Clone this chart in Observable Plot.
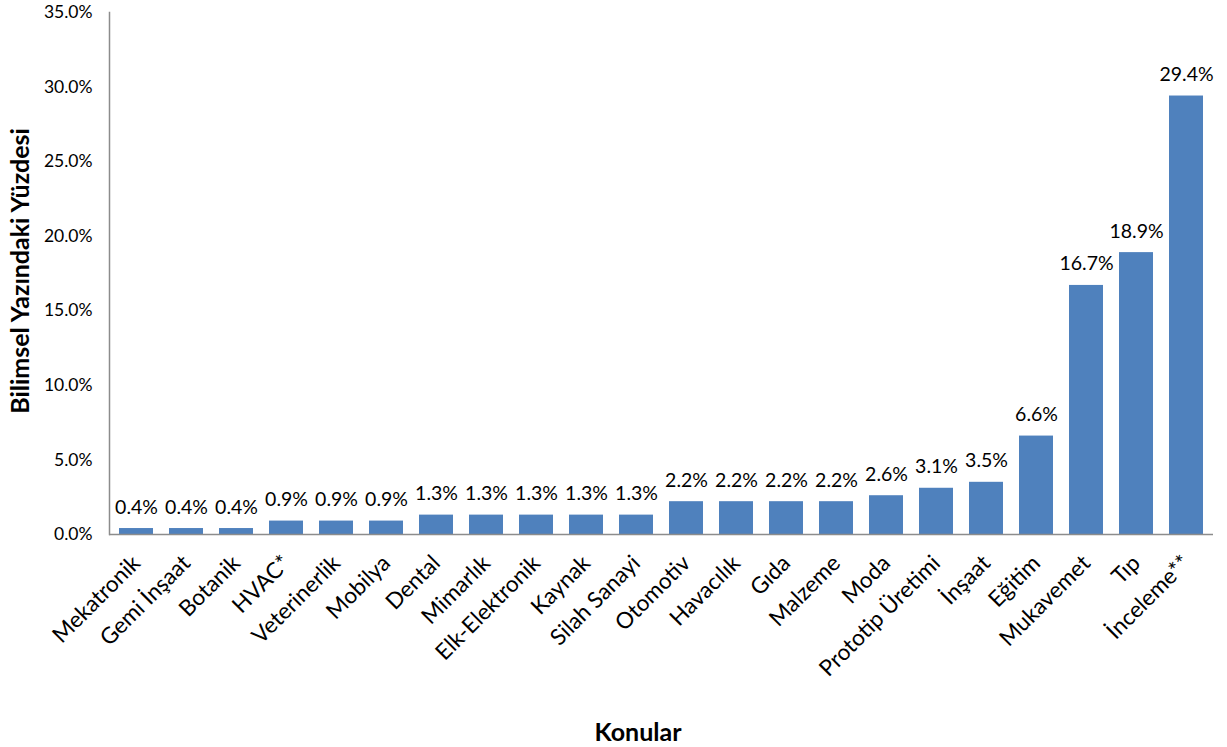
<!DOCTYPE html>
<html>
<head>
<meta charset="utf-8">
<script src="https://cdn.jsdelivr.net/npm/d3@7"></script>
<script src="https://cdn.jsdelivr.net/npm/@observablehq/plot@0.6"></script>
<style>
  html, body { margin: 0; padding: 0; background: #fff; }
  #chart { position: relative; width: 1227px; height: 747px; }
  .ytitle { position: absolute; left: 19px; top: 271px; transform: translate(-50%, -50%) rotate(-90deg);
    font: bold 25px Lato, sans-serif; white-space: nowrap; color: #000; }
  .xtitle { position: absolute; left: 638px; top: 731px; transform: translate(-50%, -50%);
    font: bold 25px Lato, sans-serif; color: #000; }
</style>
</head>
<body>
<div id="chart"></div>
<script>
const categories = ["Mekatronik","Gemi İnşaat","Botanik","HVAC*","Veterinerlik","Mobilya","Dental","Mimarlık","Elk-Elektronik","Kaynak","Silah Sanayi","Otomotiv","Havacılık","Gıda","Malzeme","Moda","Prototip Üretimi","İnşaat","Eğitim","Mukavemet","Tıp","İnceleme**"];
const values = [0.4,0.4,0.4,0.9,0.9,0.9,1.3,1.3,1.3,1.3,1.3,2.2,2.2,2.2,2.2,2.6,3.1,3.5,6.6,16.7,18.9,29.4];
const yTicks = [0,5,10,15,20,25,30,35];

const data = categories.map((c, i) => ({category: c, value: values[i]}));

const chart = Plot.plot({
  width: 1227,
  height: 747,
  marginLeft: 109,
  marginRight: 14,
  marginTop: 12,
  marginBottom: 213,
  style: {fontFamily: "Lato, sans-serif", color: "#000", background: "#fff"},
  x: {domain: categories, paddingInner: 0.32, paddingOuter: 0.16, label: null},
  y: {domain: [0, 35], label: null},
  marks: [
    Plot.frame({anchor: "left", stroke: "#8c8c8c", strokeWidth: 1.5}),
    Plot.barY(data, {x: "category", y: "value", fill: "#4F81BD"}),
    Plot.ruleY([0], {stroke: "#8c8c8c", strokeWidth: 1.5}),
    Plot.text(data, {x: "category", y: "value", text: d => d.value.toFixed(1) + "%",
      lineAnchor: "bottom", dy: -15, fontSize: 19.5, fill: "#000"}),
    Plot.axisY({ticks: yTicks, tickSize: 0, tickPadding: 17, fontSize: 17.5,
      tickFormat: d => d.toFixed(1) + "%", label: null}),
    Plot.axisX({tickSize: 0, tickRotate: -45, fontSize: 22.5, tickPadding: 25, label: null,
      dx: 0})
  ]
});
document.getElementById("chart").appendChild(chart);
const yt = document.createElement("div"); yt.className = "ytitle"; yt.textContent = "Bilimsel Yazındaki Yüzdesi";
const xt = document.createElement("div"); xt.className = "xtitle"; xt.textContent = "Konular";
document.getElementById("chart").append(yt, xt);
</script>
</body>
</html>
